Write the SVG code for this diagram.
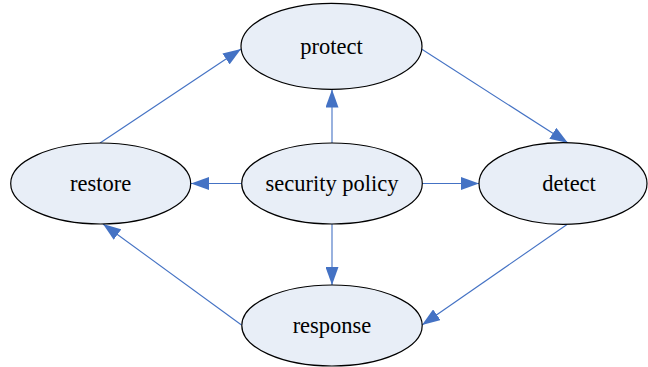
<svg xmlns="http://www.w3.org/2000/svg" width="648" height="367" viewBox="0 0 648 367">
<style>
.node ellipse{fill:#E8EEF7;stroke:#000;stroke-width:1.2}
.node text{font-family:"Liberation Serif","Times New Roman",serif;font-size:22.5px;fill:#000;text-anchor:middle;dominant-baseline:central}
.edges line{stroke:#4472C4;stroke-width:1.1;marker-end:url(#ah)}
</style>
<defs>
<marker id="ah" markerUnits="userSpaceOnUse" markerWidth="18" markerHeight="13" refX="18" refY="6.5" orient="auto">
<path d="M0,0 L18,6.5 L0,13 z" fill="#4472C4"/>
</marker>
</defs>
<rect width="648" height="367" fill="#fff"/>
<g id="edges" class="edges">
<line x1="332" y1="143" x2="332" y2="89.5"/>
<line x1="241.5" y1="183.5" x2="191" y2="183.5"/>
<line x1="422" y1="183.5" x2="479" y2="183.5"/>
<line x1="332" y1="224" x2="332" y2="285"/>
<line x1="421.5" y1="49" x2="568" y2="143"/>
<line x1="567" y1="224.5" x2="422" y2="325"/>
<line x1="241.5" y1="325" x2="103" y2="224"/>
<line x1="100" y1="143" x2="241" y2="49"/>
</g>
<g id="protect" class="node"><ellipse cx="331.5" cy="46.3" rx="90.5" ry="43"/><text x="331.5" y="46.3">protect</text></g>
<g id="security-policy" class="node"><ellipse cx="332" cy="183.5" rx="90.3" ry="40.5"/><text x="332" y="183.5">security policy</text></g>
<g id="restore" class="node"><ellipse cx="100.7" cy="183.5" rx="90" ry="40.5"/><text x="100.7" y="183.5">restore</text></g>
<g id="detect" class="node"><ellipse cx="563" cy="183.5" rx="84" ry="40.8"/><text x="569" y="183.5">detect</text></g>
<g id="response" class="node"><ellipse cx="332" cy="325.5" rx="90.2" ry="40.5"/><text x="332" y="325.5">response</text></g>
</svg>
